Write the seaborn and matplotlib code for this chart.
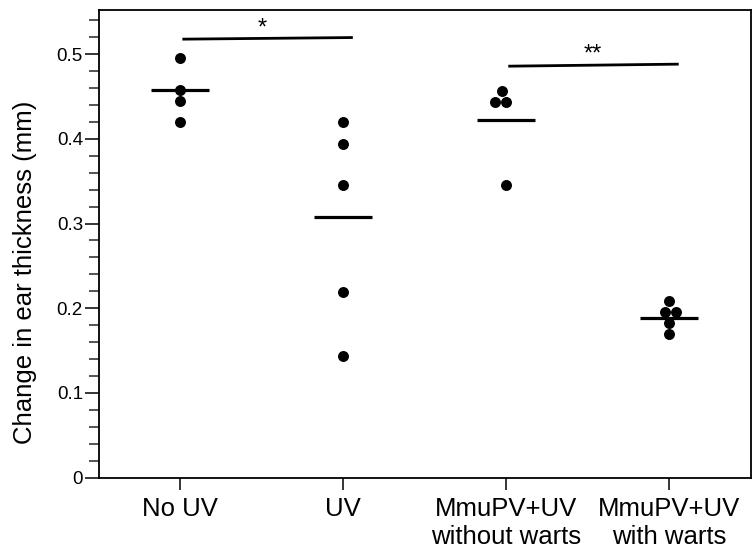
import matplotlib
matplotlib.use("Agg")
import matplotlib.pyplot as plt
import seaborn as sns
import pandas as pd
from matplotlib.ticker import MultipleLocator

# ---- data ----
categories = ["No UV", "UV", "MmuPV+UV\nwithout warts", "MmuPV+UV\nwith warts"]
no_uv = [0.495, 0.458, 0.445, 0.420]
uv = [0.420, 0.394, 0.345, 0.219, 0.144]
mmupv_without = [0.456, 0.444, 0.444, 0.345]
mmupv_with = [0.2085, 0.195, 0.195, 0.183, 0.1695]
group_means = [0.457, 0.308, 0.4225, 0.188]

# significance bars: (from group, to group, y at left, y at right, label)
sig_from = [0, 2]
sig_to = [1, 3]
sig_y_left = [0.5176, 0.4857]
sig_y_right = [0.5195, 0.4881]
sig_labels = ["*", "**"]
sig_text_x = [0.5, 2.53]

ylabel = "Change in ear thickness (mm)"

rows = []
for cat, vals in zip(categories, [no_uv, uv, mmupv_without, mmupv_with]):
    for v in vals:
        rows.append({"group": cat, "value": v})
df = pd.DataFrame(rows)

sns.set_theme(style="white")
plt.rcParams["font.family"] = ["Liberation Sans", "DejaVu Sans"]

fig = plt.figure(figsize=(7.52, 5.5), dpi=100)
ax = fig.add_axes([0.1316, 0.1315, 0.8667, 0.8503])

sns.swarmplot(data=df, x="group", y="value", order=categories, color="black",
              size=7.9, ax=ax, linewidth=0)

# mean lines
for i, m in enumerate(group_means):
    ax.plot([i - 0.178, i + 0.178], [m, m], color="black", lw=2.3,
            solid_capstyle="butt", zorder=3)

# significance bars
for a, b, yl, yr, lab, tx in zip(sig_from, sig_to, sig_y_left, sig_y_right,
                                 sig_labels, sig_text_x):
    x0 = a + 0.012
    x1 = b + 0.058
    ax.plot([x0, x1], [yl, yr], color="black", lw=2.0, solid_capstyle="butt")
    ax.text(tx, max(yl, yr) + 0.004, lab, ha="center",
            va="baseline", fontsize=17, color="black")

ax.set_xlim(-0.5, 3.5)
ax.set_ylim(0, 0.552)
ax.yaxis.set_major_locator(MultipleLocator(0.1))
ax.yaxis.set_minor_locator(MultipleLocator(0.02))
ax.set_yticks([0, 0.1, 0.2, 0.3, 0.4, 0.5])
ax.set_yticklabels(["0", "0.1", "0.2", "0.3", "0.4", "0.5"])

ax.tick_params(axis="y", which="major", direction="out", length=10, width=1.1,
               labelsize=13.5, pad=1.5, colors="black", left=True)
ax.tick_params(axis="y", which="minor", direction="out", length=7.2, width=1.1,
               left=True)
ax.tick_params(axis="x", which="major", direction="out", length=8.6, width=1.1,
               labelsize=18.5, pad=5, colors="black", bottom=True)
for lbl in ax.get_xticklabels():
    lbl.set_linespacing(1.25)

ax.set_xlabel("")
ax.set_ylabel(ylabel, fontsize=18.5, color="black")
ax.yaxis.set_label_coords(-0.095, 0.44)

for s in ax.spines.values():
    s.set_color("black")
    s.set_linewidth(1.3)
    s.set_visible(True)

fig.savefig("out.png", dpi=100)
